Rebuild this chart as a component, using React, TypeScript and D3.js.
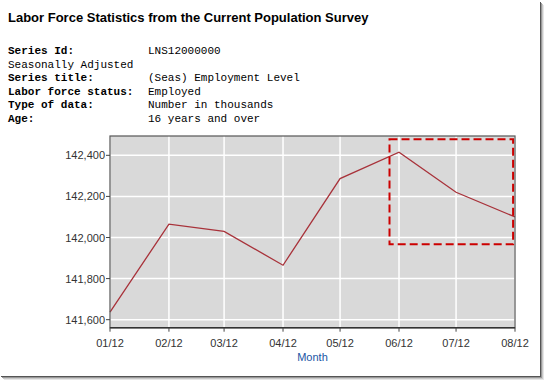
import React from "react";
import * as d3 from "d3";

const months = ["01/12", "02/12", "03/12", "04/12", "05/12", "06/12", "07/12", "08/12"];
const values = [141637, 142065, 142030, 141865, 142287, 142415, 142220, 142100];
const yTicks = [141600, 141800, 142000, 142200, 142400];
const yDomain = [141561, 142494];
// highlight box: [start date, end date, low value, high value]
const boxDates = ["2012-05-27", "2012-07-31"];
const boxValues = [141967, 142478];

const infoLabels = ["Series Id:", "", "Series title:", "Labor force status:", "Type of data:", "Age:"];
const infoValues = ["LNS12000000", "Seasonally Adjusted", "(Seas) Employment Level", "Employed", "Number in thousands", "16 years and over"];

const parseMonth = (m: string) => {
  const [mm, yy] = m.split("/");
  return new Date(2000 + +yy, +mm - 1, 1);
};

export default function App() {
  const W = 544, H = 380;
  const left = 110, right = 515, top = 136, bottom = 327.7;
  const dates = months.map(parseMonth);
  const x = d3.scaleTime().domain([dates[0], dates[dates.length - 1]]).range([left, right]);
  const y = d3.scaleLinear().domain(yDomain).range([bottom, top]);
  const line = d3.line<number>().x((_, i) => x(dates[i])).y((v) => y(v));
  const fmt = d3.format(",");
  const bx0 = x(new Date(boxDates[0] + "T00:00:00"));
  const bx1 = x(new Date(boxDates[1] + "T00:00:00"));
  const by0 = y(boxValues[1]);
  const by1 = y(boxValues[0]);

  return (
    <svg width={W} height={H} style={{ position: "absolute", left: 0, top: 0, background: "#fff" }}>
      <text x={8} y={22} fontFamily="Liberation Sans, Arial, sans-serif" fontWeight="bold" fontSize={13} fill="#000">
        Labor Force Statistics from the Current Population Survey
      </text>
      {infoLabels.map((l, i) => (
        <g key={i} fontFamily="Liberation Mono, Courier New, monospace" fontSize={11} fill="#000">
          {l ? (
            <text x={8} y={54 + i * 13.5} fontWeight="bold">{l}</text>
          ) : (
            <text x={8} y={54 + i * 13.5}>{infoValues[i]}</text>
          )}
          {l ? <text x={148} y={54 + i * 13.5}>{infoValues[i]}</text> : null}
        </g>
      ))}

      <rect x={left} y={top} width={right - left} height={bottom - top} fill="#d9d9d9" />
      {yTicks.map((t) => (
        <line key={t} x1={left} x2={right} y1={y(t)} y2={y(t)} stroke="#fff" strokeWidth={1.5} />
      ))}
      {dates.map((d, i) => (
        <line key={i} x1={x(d)} x2={x(d)} y1={top} y2={bottom} stroke="#fff" strokeWidth={1.5} />
      ))}
      <path d={line(values) || ""} fill="none" stroke="#a8323a" strokeWidth={1.3} />
      <rect x={bx0} y={by0} width={bx1 - bx0} height={by1 - by0} fill="none" stroke="#cc0000" strokeWidth={2} strokeDasharray="8 4" />
      <rect x={left} y={top} width={right - left} height={bottom - top} fill="none" stroke="#555" strokeWidth={1.2} />
      <line x1={left} x2={right} y1={bottom} y2={bottom} stroke="#333" strokeWidth={1.6} />

      {yTicks.map((t) => (
        <g key={t}>
          <line x1={left - 4} x2={left} y1={y(t)} y2={y(t)} stroke="#444" strokeWidth={1} />
          <text x={left - 5} y={y(t) + 4} textAnchor="end" fontFamily="Liberation Sans, Arial, sans-serif" fontSize={11} fill="#333">
            {fmt(t)}
          </text>
        </g>
      ))}
      {dates.map((d, i) => (
        <g key={i}>
          <line x1={x(d)} x2={x(d)} y1={bottom} y2={bottom + 4} stroke="#444" strokeWidth={1} />
          <text x={x(d)} y={347} textAnchor="middle" fontFamily="Liberation Sans, Arial, sans-serif" fontSize={11} fill="#333">
            {months[i]}
          </text>
        </g>
      ))}
      <text x={(left + right) / 2} y={361} textAnchor="middle" fontFamily="Liberation Sans, Arial, sans-serif" fontSize={11} fill="#2055a4">
        Month
      </text>

      <rect x={540} y={2} width={1} height={375} fill="#555" />
      <rect x={541} y={3} width={1} height={375} fill="#999" />
      <rect x={542} y={4} width={1} height={375} fill="#c8c8c8" />
      <rect x={543} y={5} width={1} height={375} fill="#e6e6e6" />
      <rect x={1} y={376} width={540} height={1} fill="#555" />
      <rect x={2} y={377} width={540} height={1} fill="#999" />
      <rect x={3} y={378} width={540} height={1} fill="#c8c8c8" />
      <rect x={4} y={379} width={540} height={1} fill="#e6e6e6" />
    </svg>
  );
}
